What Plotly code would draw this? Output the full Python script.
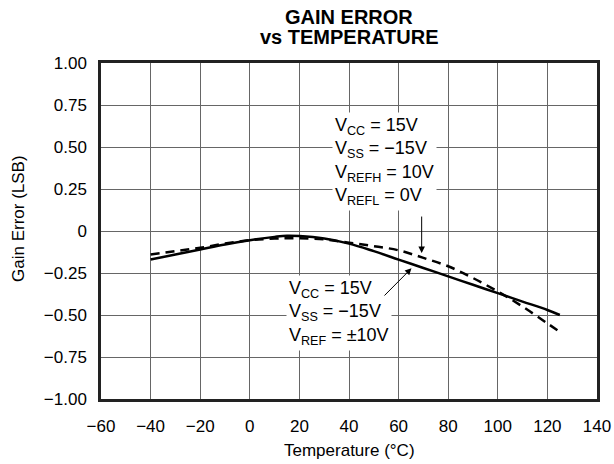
import plotly.graph_objects as go

temp = [-40, -30, -20, -10, 0, 10, 15, 20, 30, 40, 50, 60, 70, 80, 90, 100, 110, 120, 125]
err_ref10 = [-0.17, -0.14, -0.11, -0.08, -0.055, -0.035, -0.028, -0.03, -0.045, -0.075,
             -0.12, -0.17, -0.22, -0.27, -0.32, -0.37, -0.42, -0.47, -0.50]
err_refh = [-0.14, -0.12, -0.10, -0.075, -0.055, -0.045, -0.043, -0.043, -0.05, -0.07,
            -0.09, -0.115, -0.16, -0.21, -0.28, -0.36, -0.45, -0.55, -0.60]

xticks = [-60, -40, -20, 0, 20, 40, 60, 80, 100, 120, 140]
xtick_text = ["−60", "−40", "−20", "0", "20", "40", "60", "80", "100", "120", "140"]
yticks = [1.0, 0.75, 0.5, 0.25, 0, -0.25, -0.5, -0.75, -1.0]
ytick_text = ["1.00", "0.75", "0.50", "0.25", "0", "−0.25", "−0.50", "−0.75", "−1.00"]

FONT = "Liberation Sans, Arial, sans-serif"

fig = go.Figure()
fig.add_trace(go.Scatter(x=temp, y=err_ref10, mode="lines", line=dict(color="black", width=2.5, shape="spline"),
                         showlegend=False, hoverinfo="skip"))
fig.add_trace(go.Scatter(x=temp, y=err_refh, mode="lines",
                         line=dict(color="black", width=2.5, dash="9px,6px", shape="spline"),
                         showlegend=False, hoverinfo="skip"))

fig.update_layout(
    width=614, height=464,
    margin=dict(l=101, r=17, t=63, b=65),
    paper_bgcolor="white", plot_bgcolor="white",
    font=dict(family=FONT, color="black", size=17),
    xaxis=dict(range=[-60, 140], tickvals=xticks, ticktext=xtick_text, showgrid=True,
               gridcolor="#666", gridwidth=1, zeroline=False, showline=True, linecolor="#222",
               linewidth=2.5, mirror=True, ticks="", automargin=False, ticklabelstandoff=10,
               tickfont=dict(size=17)),
    yaxis=dict(range=[-1.0, 1.0], tickvals=yticks, ticktext=ytick_text, showgrid=True,
               gridcolor="#666", gridwidth=1, zeroline=False, showline=True, linecolor="#222",
               linewidth=2.5, mirror=True, ticks="", automargin=False, ticklabelstandoff=8,
               tickfont=dict(size=17)),
)

# titles
fig.add_annotation(x=0.5, y=1, xref="paper", yref="paper", yanchor="middle", yshift=63 - 17,
                   showarrow=False, text="<b>GAIN ERROR</b>", font=dict(size=20, family=FONT))
fig.add_annotation(x=0.5, y=1, xref="paper", yref="paper", yanchor="middle", yshift=63 - 37,
                   showarrow=False, text="<b>vs TEMPERATURE</b>", font=dict(size=20, family=FONT))
fig.add_annotation(x=0.5, y=0, xref="paper", yref="paper", yanchor="middle", yshift=-(450 - 399),
                   showarrow=False, text="Temperature (°C)", font=dict(size=17, family=FONT))
fig.add_annotation(x=0, y=0.5, xref="paper", yref="paper", xanchor="center", yanchor="middle",
                   xshift=-(101 - 18), yshift=231 - 219, textangle=-90,
                   showarrow=False, text="Gain Error (LSB)", font=dict(size=17, family=FONT))

fig.add_annotation(x=33.0, y=0.414, xref="x", yref="y", xanchor="left", showarrow=False, align="left",
                   text="V<sub>CC</sub> = 15V<br>V<sub>SS</sub> = −15V<br>V<sub>REFH</sub> = 10V<br>V<sub>REFL</sub> = 0V",
                   bgcolor="white", borderpad=2, font=dict(size=18, family=FONT))
fig.add_annotation(x=14.5, y=-0.488, xref="x", yref="y", xanchor="left", showarrow=False, align="left",
                   text="V<sub>CC</sub> = 15V<br>V<sub>SS</sub> = −15V<br>V<sub>REF</sub> = ±10V",
                   bgcolor="white", borderpad=2, font=dict(size=18, family=FONT))
fig.add_annotation(x=69.3, y=-0.131, ax=69.3, ay=0.095, xref="x", yref="y", axref="x", ayref="y",
                   text="", showarrow=True, arrowhead=2, arrowsize=1.3, arrowwidth=1, arrowcolor="black")
fig.add_annotation(x=65.2, y=-0.222, ax=53.7, ay=-0.393, xref="x", yref="y", axref="x", ayref="y",
                   text="", showarrow=True, arrowhead=2, arrowsize=1.3, arrowwidth=1, arrowcolor="black")

fig.write_html("out.html", post_script="document.body.style.margin='0';",
               config={"displayModeBar": False})
